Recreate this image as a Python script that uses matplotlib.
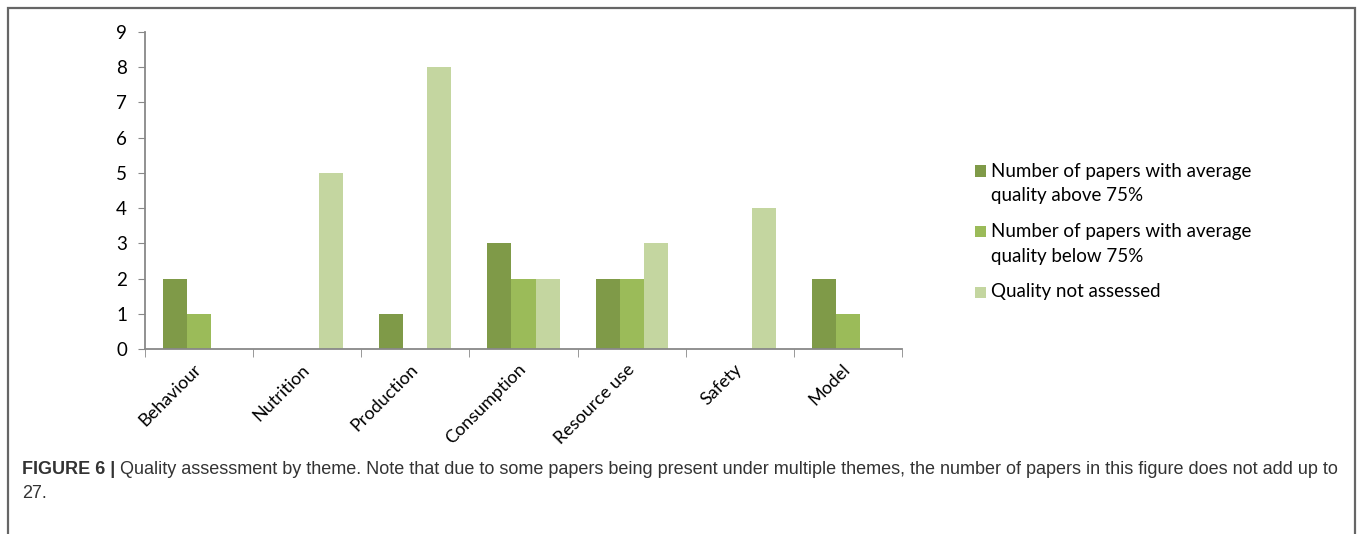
import matplotlib.pyplot as plt
from matplotlib.patches import Rectangle
import numpy as np

themes = ["Behaviour", "Nutrition", "Production", "Consumption", "Resource use", "Safety", "Model"]
above_75 = [2, 0, 1, 3, 2, 0, 2]
below_75 = [1, 0, 0, 2, 2, 0, 1]
not_assessed = [0, 5, 8, 2, 3, 4, 0]
series_labels = [
    "Number of papers with average\nquality above 75%",
    "Number of papers with average\nquality below 75%",
    "Quality not assessed",
]
colors = ["#7f9a48", "#9bbb59", "#c4d6a0"]

W, H = 1358, 534
fig = plt.figure(figsize=(W / 100, H / 100), dpi=100)
fig.patch.set_facecolor("white")

# outer frame (open at the bottom edge of the crop)
fig.add_artist(Rectangle((8 / W, -0.05), (1355 - 8) / W, 1.05 - 8 / H,
                         transform=fig.transFigure, fill=False,
                         edgecolor="#666666", linewidth=1.6))

ax = fig.add_axes([145 / W, 1 - 349 / H, (902 - 145) / W, (349 - 32) / H])
x = np.arange(len(themes)) + 0.5
bw = 1 / 4.5
for k, (vals, c) in enumerate(zip([above_75, below_75, not_assessed], colors)):
    ax.bar(x + (k - 1) * bw, vals, width=bw, color=c, linewidth=0)

tick_font = "Lato"
ax.set_xlim(0, len(themes))
ax.set_ylim(0, 9)
ax.set_yticks(range(0, 10))
ax.set_xticks(x)
ax.set_xticks(np.arange(len(themes) + 1), minor=True)
ax.tick_params(axis="x", which="major", length=0, pad=13)
ax.tick_params(axis="x", which="minor", length=6, color="#888888", direction="out")
ax.tick_params(axis="y", length=5, color="#888888", pad=8)
ax.set_xticklabels(themes, rotation=45, ha="right", va="center", rotation_mode="anchor",
                   fontsize=13, family=tick_font)
for t in ax.get_yticklabels():
    t.set_fontsize(13.5)
    t.set_family(tick_font)
for s in ["top", "right"]:
    ax.spines[s].set_visible(False)
for s in ["left", "bottom"]:
    ax.spines[s].set_color("#888888")
    ax.spines[s].set_linewidth(1.3)

# legend drawn by hand so the marker sits on the first line of each label
y = 171
for lab, c in zip(series_labels, colors):
    fig.add_artist(Rectangle((975 / W, 1 - (y + 5.5) / H), 11 / W, 11 / H,
                             transform=fig.transFigure, color=c, linewidth=0))
    for line in lab.split("\n"):
        fig.text(991 / W, 1 - y / H, line, fontsize=13.5, family=tick_font,
                 va="center", ha="left", color="black")
        y += 24.5
    y += 36 - 24.5

# caption
cap_font = "Liberation Sans"
cap_y1 = 1 - 470 / H
cap_y2 = 1 - 494 / H
bold = fig.text(22 / W, cap_y1, "FIGURE 6 |", fontsize=13, fontweight="bold",
                family=cap_font, color="#333333", va="center")
fig.canvas.draw()
bb = bold.get_window_extent(renderer=fig.canvas.get_renderer())
fig.text(bb.x1 / W + 5 / W, cap_y1,
         "Quality assessment by theme. Note that due to some papers being present under multiple themes, "
         "the number of papers in this figure does not add up to",
         fontsize=13, family=cap_font, color="#333333", va="center")
fig.text(22 / W, cap_y2, "27.", fontsize=13, family=cap_font, color="#333333", va="center")

fig.savefig("out.png", dpi=100)
